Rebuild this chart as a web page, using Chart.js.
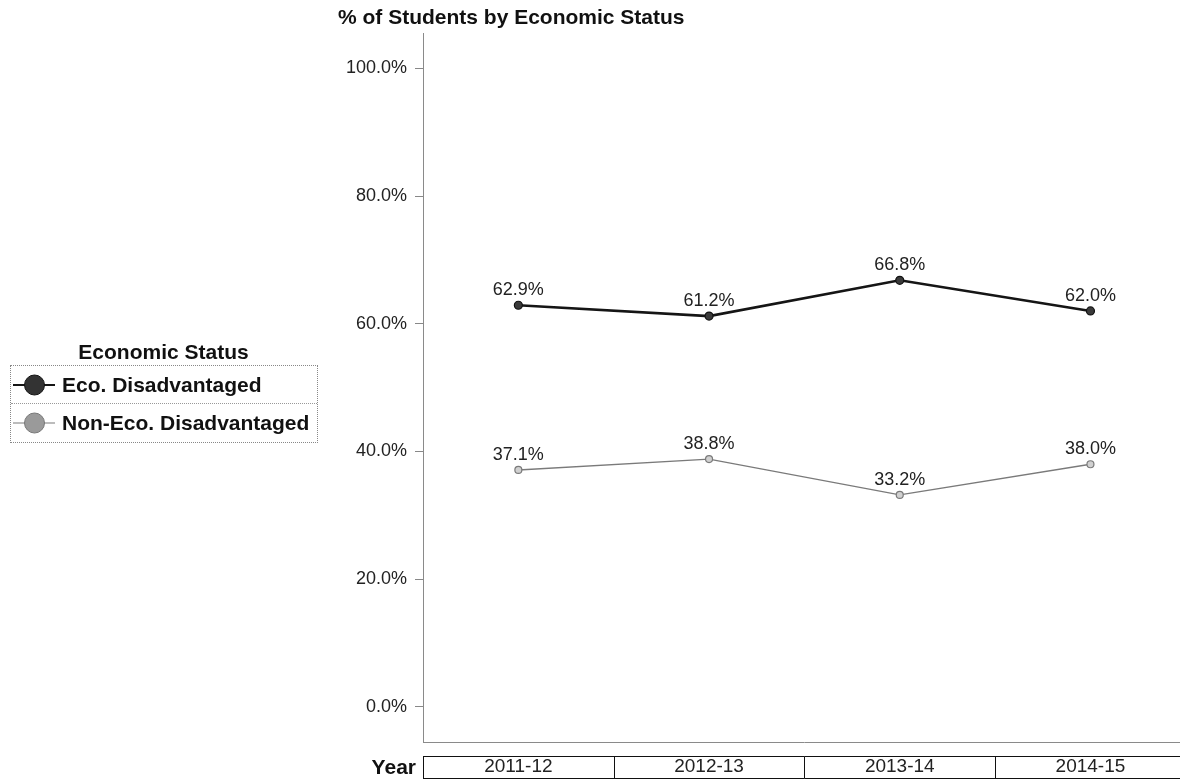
<!DOCTYPE html>
<html>
<head>
<meta charset="utf-8">
<title>% of Students by Economic Status</title>
<script src="https://cdn.jsdelivr.net/npm/chart.js@4.4.1/dist/chart.umd.min.js"></script>
<style>
  html, body { margin: 0; padding: 0; background: #fff; overflow: hidden; }
  #wrap { position: relative; width: 1180px; height: 780px; overflow: hidden; }
  #grafico { position: absolute; left: 0; top: 0; }
  #leyendaTitulo {
    position: absolute; left: 10px; top: 340px; width: 307px; text-align: center;
    font: bold 21px "Liberation Sans", Arial, sans-serif; color: #111;
  }
  #leyenda {
    position: absolute; left: 10px; top: 365px; width: 306px; height: 76px;
    border: 1px dotted #888; font: bold 21px "Liberation Sans", Arial, sans-serif; color: #111;
  }
  .fila { position: relative; height: 37px; }
  .fila + .fila { border-top: 1px dotted #999; height: 38px; }
  .marca { position: absolute; left: 2px; top: 50%; width: 42px; }
  .marca .linea { position: absolute; left: 0; right: 0; top: 0; transform: translateY(-50%); }
  .marca .punto { position: absolute; left: 11px; top: 0; width: 19px; height: 19px; border-radius: 50%; transform: translateY(-50%); }
  .fila span { position: absolute; left: 51px; top: 50%; transform: translateY(-50%); white-space: nowrap; }
</style>
</head>
<body>
<div id="wrap">
  <canvas id="grafico" width="1191" height="780"></canvas>
  <div id="leyendaTitulo">Economic Status</div>
  <div id="leyenda"></div>
</div>
<script>
// Datos del gráfico
const years = ["2011-12", "2012-13", "2013-14", "2014-15"];
const ecoDisadvantaged = [62.9, 61.2, 66.8, 62.0];
const nonEcoDisadvantaged = [37.1, 38.8, 33.2, 38.0];
const seriesNames = ["Eco. Disadvantaged", "Non-Eco. Disadvantaged"];
const yTicks = [0, 20, 40, 60, 80, 100];

const fuente = '"Liberation Sans", Arial, sans-serif';

// Estilos de cada serie (línea oscura gruesa, línea gris delgada)
const estilos = [
  { line: "#151515", width: 2.6, fill: "#3a3a3a", border: "#111", radius: 4, legendFill: "#333", legendBorder: "#111" },
  { line: "#7a7a7a", width: 1.4, fill: "#d0d0d0", border: "#7a7a7a", radius: 3.5, legendFill: "#9a9a9a", legendBorder: "#777" }
];

// Etiquetas con el valor encima de cada punto
const etiquetasValor = {
  id: "etiquetasValor",
  afterDatasetsDraw(chart) {
    const ctx = chart.ctx;
    ctx.save();
    ctx.font = "18px " + fuente;
    ctx.fillStyle = "#222";
    ctx.textAlign = "center";
    ctx.textBaseline = "bottom";
    chart.data.datasets.forEach((ds, i) => {
      chart.getDatasetMeta(i).data.forEach((pt, j) => {
        ctx.fillText(ds.data[j].toFixed(1) + "%", pt.x, pt.y - 6);
      });
    });
    ctx.restore();
  }
};

// Cajas alrededor de los años y el rótulo "Year"
const cajasAnio = {
  id: "cajasAnio",
  afterDraw(chart) {
    const x = chart.scales.x;
    const ctx = chart.ctx;
    const top = x.top + 14.5;
    const bottom = x.bottom - 1.5;
    const ancho = x.width / years.length;
    ctx.save();
    ctx.strokeStyle = "#111";
    ctx.lineWidth = 1;
    ctx.beginPath();
    ctx.moveTo(x.left, top);
    ctx.lineTo(x.right, top);
    ctx.moveTo(x.left, bottom);
    ctx.lineTo(x.right, bottom);
    for (let i = 0; i <= years.length; i++) {
      const px = Math.round(x.left + i * ancho) + 0.5;
      ctx.moveTo(px, top);
      ctx.lineTo(px, bottom);
    }
    ctx.stroke();
    ctx.font = "bold 21px " + fuente;
    ctx.fillStyle = "#111";
    ctx.textAlign = "right";
    ctx.textBaseline = "middle";
    ctx.fillText("Year", x.left - 7, (top + bottom) / 2 + 1);
    ctx.restore();
  }
};

const ctx = document.getElementById("grafico").getContext("2d");
const grafico = new Chart(ctx, {
  type: "line",
  data: {
    labels: years,
    datasets: [ecoDisadvantaged, nonEcoDisadvantaged].map((serie, i) => ({
      label: seriesNames[i],
      data: serie,
      borderColor: estilos[i].line,
      borderWidth: estilos[i].width,
      pointRadius: estilos[i].radius,
      pointBackgroundColor: estilos[i].fill,
      pointBorderColor: estilos[i].border,
      pointBorderWidth: 1.2,
      tension: 0
    }))
  },
  options: {
    responsive: false,
    animation: false,
    devicePixelRatio: 1,
    layout: { padding: { left: 338, right: 0, top: 0, bottom: 0 } },
    plugins: {
      legend: { display: false },
      tooltip: { enabled: false },
      title: {
        display: true,
        text: "% of Students by Economic Status",
        align: "start",
        color: "#111",
        font: { family: fuente, size: 21, weight: "bold" },
        padding: { top: 6, bottom: 2 }
      }
    },
    scales: {
      x: {
        type: "category",
        offset: true,
        grid: { display: false, drawTicks: false },
        border: { display: true, color: "#8a8a8a", dash: [2, 2] },
        ticks: { color: "#222", font: { family: fuente, size: 19 }, padding: 13, maxRotation: 0 },
        afterFit(scale) { scale.height = 38; }
      },
      y: {
        min: -5.5,
        max: 105.5,
        afterBuildTicks(scale) { scale.ticks = yTicks.map(v => ({ value: v })); },
        grid: { drawOnChartArea: false, drawTicks: true, tickLength: 8, color: "#888" },
        border: { display: true, color: "#8a8a8a", dash: [2, 2] },
        ticks: {
          color: "#222",
          font: { family: fuente, size: 18 },
          padding: 8,
          callback: v => v.toFixed(1) + "%"
        },
        afterFit(scale) { scale.width = 85; }
      }
    }
  },
  plugins: [etiquetasValor, cajasAnio]
});

// Leyenda a la izquierda, construida con las mismas series
const leyenda = document.getElementById("leyenda");
seriesNames.forEach((nombre, i) => {
  const e = estilos[i];
  const fila = document.createElement("div");
  fila.className = "fila";
  fila.innerHTML =
    '<div class="marca"><div class="linea" style="height:' + (i === 0 ? 2 : 1) + 'px;background:' + e.line + '"></div>' +
    '<div class="punto" style="background:' + e.legendFill + ';border:1px solid ' + e.legendBorder + '"></div></div>' +
    '<span>' + nombre + '</span>';
  leyenda.appendChild(fila);
});
</script>
</body>
</html>
